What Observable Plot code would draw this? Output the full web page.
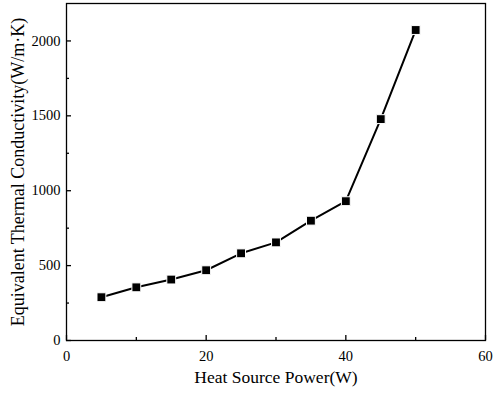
<!DOCTYPE html>
<html>
<head>
<meta charset="utf-8">
<script src="https://cdn.jsdelivr.net/npm/d3@7"></script>
<script src="https://cdn.jsdelivr.net/npm/@observablehq/plot@0.6"></script>
<style>
  html, body { margin: 0; padding: 0; background: #fff; }
  #chart svg { display: block; }
</style>
</head>
<body>
<div id="chart"></div>
<script>
const power = [5, 10, 15, 20, 25, 30, 35, 40, 45, 50];
const conductivity = [289, 355, 407, 469, 582, 655, 800, 930, 1478, 2073];
const xMajorTicks = [0, 20, 40, 60];
const xMinorTicks = [10, 30, 50];
const yMajorTicks = [0, 500, 1000, 1500, 2000];
const yMinorTicks = [250, 750, 1250, 1750];
const xTitle = "Heat Source Power(W)";
const yTitle = "Equivalent Thermal Conductivity(W/m·K)";

const data = power.map((p, i) => ({power: p, k: conductivity[i]}));

const W = 493, H = 393;
const mL = 66, mR = 8, mT = 3, mB = 53;
const innerW = W - mL - mR, innerH = H - mT - mB;

const chart = Plot.plot({
  width: W,
  height: H,
  marginLeft: mL,
  marginRight: mR,
  marginTop: mT,
  marginBottom: mB,
  style: {fontFamily: "'Liberation Serif', 'Times New Roman', serif", fontSize: "14px", color: "#000", background: "#fff"},
  x: {domain: [0, 60]},
  y: {domain: [0, 2250]},
  marks: [
    Plot.frame({stroke: "#000", strokeWidth: 1.3}),
    Plot.tickX(xMajorTicks, {x: d => d, insetTop: innerH - 5, stroke: "#000", strokeWidth: 1.3}),
    Plot.tickX(xMinorTicks, {x: d => d, insetTop: innerH - 3, stroke: "#000", strokeWidth: 1.3}),
    Plot.tickY(yMajorTicks, {y: d => d, insetRight: innerW - 5, stroke: "#000", strokeWidth: 1.3}),
    Plot.tickY(yMinorTicks, {y: d => d, insetRight: innerW - 3, stroke: "#000", strokeWidth: 1.3}),
    Plot.axisX(xMajorTicks, {tickSize: 0, tickPadding: 10, tickFormat: d => String(d), fontSize: 14.5, label: null}),
    Plot.axisY(yMajorTicks, {tickSize: 0, tickPadding: 6, tickFormat: d => String(d), fontSize: 14.5, label: null}),
    Plot.text([xTitle], {text: d => d, frameAnchor: "bottom", dy: 37, fontSize: 17.5, textAnchor: "middle", lineAnchor: "middle", fill: "#000"}),
    Plot.text([yTitle], {text: d => d, frameAnchor: "left", dx: -48, rotate: -90, fontSize: 18, textAnchor: "middle", lineAnchor: "middle", fill: "#000"}),
    Plot.line(data, {x: "power", y: "k", stroke: "#000", strokeWidth: 2}),
    Plot.dot(data, {x: "power", y: "k", symbol: "square", r: 5, fill: "#000", stroke: "#fff", strokeWidth: 1})
  ]
});

document.getElementById("chart").appendChild(chart);
</script>
</body>
</html>
